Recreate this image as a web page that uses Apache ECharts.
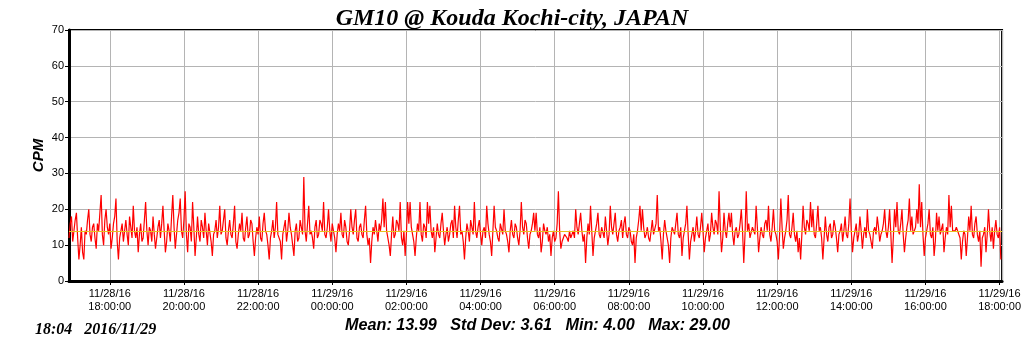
<!DOCTYPE html>
<html>
<head>
<meta charset="utf-8">
<script src="https://cdn.jsdelivr.net/npm/echarts@6/dist/echarts.min.js"></script>
<style>
  html, body { margin: 0; padding: 0; background: #fff; }
  #chart { width: 1024px; height: 351px; }
</style>
</head>
<body>
<div id="chart"></div>
<script>
// one reading every 2 minutes, starting 11/28/16 16:54
const startTime = new Date(2016, 10, 28, 16, 54).getTime()
const stepMinutes = 2
const axisMin = new Date(2016, 10, 28, 16, 54).getTime()
const axisMax = new Date(2016, 10, 29, 18, 4).getTime()

// one row per hour (30 readings)
const cpm = [
    12, 16, 18, 11, 14, 17, 19, 12, 6, 10, 15, 8, 6, 14, 13, 17, 20, 13, 11, 15, 16, 12, 9, 16, 14, 19, 24, 13, 10, 17,
    20, 15, 13, 16, 9, 12, 16, 18, 23, 11, 6, 12, 14, 16, 11, 14, 17, 13, 10, 18, 15, 12, 21, 14, 12, 15, 8, 13, 16, 11,
    12, 17, 22, 14, 10, 15, 14, 11, 18, 13, 9, 12, 15, 17, 12, 16, 21, 14, 8, 11, 16, 14, 11, 18, 24, 15, 9, 13, 17, 19,
    23, 14, 12, 17, 25, 13, 8, 16, 15, 11, 22, 15, 7, 12, 18, 13, 11, 17, 15, 12, 19, 14, 10, 16, 16, 11, 7, 13, 14, 17,
    12, 15, 21, 13, 14, 17, 20, 12, 10, 14, 17, 13, 12, 16, 21, 11, 9, 13, 16, 14, 19, 12, 11, 15, 18, 12, 13, 17, 16, 11,
    7, 12, 15, 13, 18, 12, 11, 16, 19, 14, 13, 10, 6, 12, 14, 17, 12, 15, 22, 13, 13, 11, 6, 13, 15, 17, 11, 14, 19, 15,
    13, 10, 7, 14, 16, 11, 12, 17, 15, 13, 29, 14, 11, 16, 21, 13, 14, 12, 9, 15, 17, 12, 13, 17, 16, 14, 22, 13, 12, 15,
    20, 14, 11, 16, 14, 12, 8, 13, 16, 14, 19, 13, 12, 17, 15, 11, 10, 14, 20, 15, 13, 17, 20, 12, 11, 15, 16, 13, 12, 17,
    21, 13, 10, 12, 5, 11, 15, 13, 17, 14, 11, 16, 14, 17, 23, 15, 22, 14, 12, 10, 7, 13, 18, 12, 13, 17, 16, 14, 22, 12,
    10, 14, 7, 13, 22, 16, 22, 15, 13, 11, 7, 12, 16, 14, 22, 13, 11, 16, 15, 12, 22, 16, 21, 14, 12, 15, 8, 12, 16, 13,
    12, 16, 19, 14, 10, 13, 15, 11, 13, 16, 17, 12, 21, 15, 12, 17, 21, 13, 14, 11, 6, 12, 16, 14, 11, 17, 15, 13, 22, 14,
    12, 15, 17, 13, 10, 14, 15, 12, 21, 16, 13, 11, 7, 14, 21, 15, 14, 12, 11, 16, 16, 13, 20, 14, 13, 11, 8, 14, 17, 13,
    12, 16, 15, 12, 10, 14, 22, 15, 13, 17, 16, 12, 9, 13, 14, 16, 19, 14, 19, 13, 12, 15, 8, 11, 16, 14, 13, 15, 11, 13,
    7, 12, 14, 11, 12, 16, 25, 14, 9, 11, 12, 13, 13, 12, 11, 14, 12, 13, 14, 12, 20, 15, 13, 16, 19, 14, 11, 13, 5, 12,
    16, 13, 21, 14, 7, 12, 14, 16, 19, 13, 12, 15, 15, 12, 18, 14, 10, 13, 21, 15, 13, 16, 19, 13, 11, 14, 15, 17, 12, 16,
    18, 13, 12, 15, 14, 11, 10, 13, 5, 12, 14, 17, 21, 14, 20, 15, 12, 13, 15, 12, 11, 14, 17, 13, 13, 16, 24, 14, 15, 11,
    6, 13, 17, 14, 12, 10, 5, 12, 15, 14, 13, 16, 19, 13, 12, 15, 7, 12, 14, 16, 21, 13, 6, 11, 13, 15, 11, 14, 18, 13,
    12, 15, 19, 14, 8, 12, 14, 16, 11, 13, 19, 15, 13, 17, 16, 13, 25, 15, 8, 12, 19, 14, 12, 16, 19, 15, 19, 13, 10, 14,
    15, 12, 13, 16, 20, 14, 5, 13, 25, 14, 16, 12, 12, 15, 14, 13, 21, 15, 8, 12, 15, 13, 12, 16, 17, 14, 21, 13, 11, 15,
    20, 14, 13, 11, 6, 13, 23, 15, 9, 12, 14, 17, 24, 13, 12, 15, 19, 13, 11, 14, 8, 12, 6, 13, 21, 15, 13, 17, 16, 14,
    22, 15, 20, 13, 12, 16, 21, 14, 15, 12, 6, 12, 18, 13, 11, 15, 16, 12, 13, 17, 15, 12, 8, 13, 14, 16, 11, 14, 18, 13,
    12, 16, 23, 14, 8, 12, 14, 16, 11, 13, 18, 14, 9, 13, 15, 12, 20, 14, 13, 11, 9, 14, 15, 13, 18, 15, 11, 13, 14, 16,
    20, 14, 12, 15, 20, 13, 5, 12, 20, 15, 22, 14, 13, 16, 20, 13, 8, 12, 15, 17, 23, 14, 18, 13, 13, 15, 20, 16, 27, 15,
    22, 13, 7, 12, 14, 16, 20, 13, 12, 15, 7, 11, 19, 14, 18, 13, 13, 16, 8, 12, 15, 13, 24, 15, 21, 14, 14, 14, 15, 14,
    14, 12, 6, 11, 14, 13, 7, 12, 18, 14, 21, 13, 12, 16, 18, 13, 11, 14, 4, 12, 13, 15, 8, 13, 20, 14, 11, 15, 9, 14,
    17, 13, 12, 15, 6
]

const meanCpm = 13.99
const yTicks = [0, 10, 20, 30, 40, 50, 60, 70]
const titleText = "GM10 @ Kouda Kochi-city, JAPAN"
const stampText = "18:04   2016/11/29"
const statsText = "Mean: 13.99   Std Dev: 3.61   Min: 4.00   Max: 29.00"

const seriesData = cpm.map((v, i) => [startTime + i * stepMinutes * 60000, v])

const pad = n => (n < 10 ? "0" : "") + n
const fmtTime = val => {
    const d = new Date(val)
    return pad(d.getMonth() + 1) + "/" + pad(d.getDate()) + "/" + pad(d.getFullYear() % 100) +
        "\n" + pad(d.getHours()) + ":" + pad(d.getMinutes()) + ":" + pad(d.getSeconds())
}

const chart = echarts.init(document.getElementById("chart"), null, { renderer: "canvas" })

const option = {
    animation: false,
    backgroundColor: "#fff",
    title: {
        text: titleText,
        left: "center",
        top: 2,
        textStyle: {
            fontFamily: "Liberation Serif",
            fontStyle: "italic",
            fontWeight: "bold",
            fontSize: 24,
            color: "#000"
        }
    },
    grid: {
        left: 69,
        right: 20,
        top: 30,
        bottom: 70,
        show: true,
        borderColor: "#000",
        borderWidth: 2,
        backgroundColor: "#fff"
    },
    xAxis: {
        type: "time",
        min: axisMin,
        max: axisMax,
        splitNumber: 10,
        axisLine: { show: true, onZero: false, lineStyle: { color: "#000", width: 3 } },
        axisTick: { show: true, length: 4, lineStyle: { color: "#000" } },
        splitLine: { show: true, lineStyle: { color: "#b4b4b4", width: 1 } },
        axisLabel: {
            formatter: fmtTime,
            color: "#000",
            fontFamily: "Liberation Sans",
            fontSize: 11,
            lineHeight: 13,
            margin: 6,
            hideOverlap: false,
            showMinLabel: false,
            showMaxLabel: false
        }
    },
    yAxis: {
        type: "value",
        min: yTicks[0],
        max: yTicks[yTicks.length - 1],
        interval: 10,
        name: "CPM",
        nameLocation: "middle",
        nameGap: 23,
        nameMoveOverlap: false,
        nameTextStyle: {
            fontFamily: "Liberation Sans",
            fontStyle: "italic",
            fontWeight: "bold",
            fontSize: 15,
            color: "#000"
        },
        axisLine: { show: true, lineStyle: { color: "#000", width: 3 } },
        axisTick: { show: true, length: 4, lineStyle: { color: "#000" } },
        splitLine: { show: true, lineStyle: { color: "#b4b4b4", width: 1 } },
        axisLabel: {
            color: "#000",
            fontFamily: "Liberation Sans",
            fontSize: 11,
            margin: 5
        }
    },
    series: [
        {
            name: "mean",
            type: "line",
            data: [],
            z: 1,
            silent: true,
            markLine: {
                silent: true,
                symbol: "none",
                label: { show: false },
                lineStyle: { color: "#e8c020", type: "solid", width: 1 },
                data: [{ yAxis: meanCpm }]
            }
        },
        {
            name: "CPM",
            type: "line",
            data: seriesData,
            z: 2,
            showSymbol: false,
            symbol: "none",
            sampling: null,
            lineStyle: { color: "#ff0000", width: 1.2 }
        }
    ],
    graphic: [
        {
            type: "text",
            left: 35,
            top: 322,
            style: {
                text: stampText,
                fontFamily: "Liberation Serif",
                fontStyle: "italic",
                fontWeight: "bold",
                fontSize: 16,
                fill: "#000"
            }
        },
        {
            type: "text",
            left: 345,
            top: 318,
            style: {
                text: statsText,
                fontFamily: "Liberation Sans",
                fontStyle: "italic",
                fontWeight: "bold",
                fontSize: 16.2,
                fill: "#000"
            }
        }
    ]
}

chart.setOption(option)
</script>
</body>
</html>
